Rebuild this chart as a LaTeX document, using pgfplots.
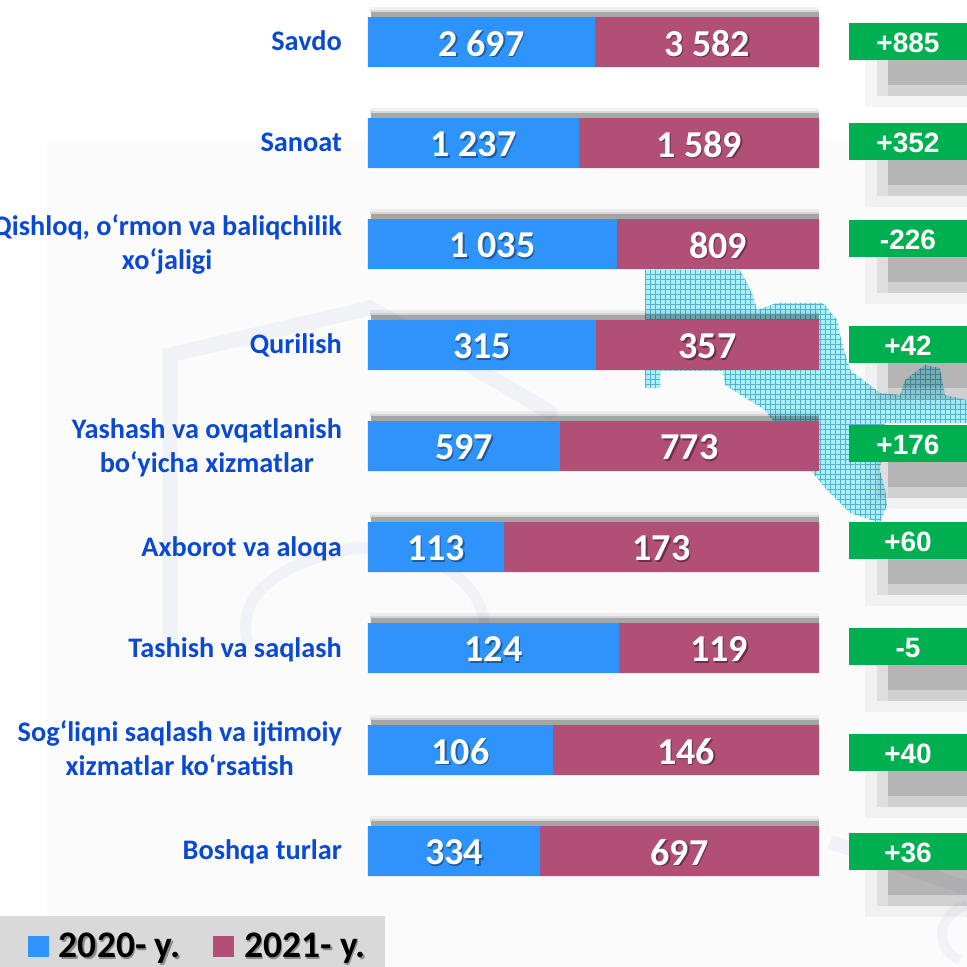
\documentclass[border=0pt]{standalone}
\usepackage{pgfplots}
\pgfplotsset{compat=1.18}
\usepackage{pgfplotstable}
\usepackage{fontspec}
\setmainfont{Carlito}
\newfontfamily\arialf{Liberation Sans}
\definecolor{cblue}{HTML}{2E93FB}
\definecolor{cred}{HTML}{B14F77}
\definecolor{cgreen}{HTML}{00B050}
\definecolor{ctext}{HTML}{0A49D3}
\definecolor{sblue}{HTML}{1F5E9F}
\definecolor{sred}{HTML}{6E3049}
\definecolor{swoosh}{HTML}{F1F2F7}
\definecolor{mapbg}{HTML}{A3F4F8}
\definecolor{mapln}{HTML}{62ACCE}
\newcommand\sh[2]{\makebox[0pt][l]{\raisebox{-1.5pt}{\hspace{1.5pt}\textcolor{#1}{#2}}}#2}
\pgfplotstableread[col sep=comma]{
y,blue,red,lb,lr
42,50.33,49.67,2 697,3 582
143,46.78,53.22,1 237,1 589
244,55.21,44.79,1 035,809
345,50.55,49.45,315,357
446,42.57,57.43,597,773
547,30.16,69.84,113,173
648,55.65,44.35,124,119
750,41.02,58.98,106,146
851,38.14,61.86,334,697
}\bars
\pgfplotstableread[col sep=comma]{
y,x,d
41.5,59,+885
141.5,59,+352
238.5,59,-226
344.5,59,+42
443.5,59,+176
540.5,59,+60
646.5,59,-5
752.5,59,+40
851,59,+36
}\diffs
\begin{document}
\begin{tikzpicture}
\clip (0pt,0pt) rectangle (967pt,967pt);
\begin{scope}[x=1pt,y=-1pt,yshift=967pt]
 \fill[white] (0,0) rectangle (967,967);
 \fill[black!1.5] (47,140) rectangle (967,967);
 % faint swooshes
 \draw[swoosh,line width=15pt,line cap=round] (170,640) -- (170,355) -- (370,308) -- (550,412);
 \draw[swoosh,line width=11pt,line cap=round] (247,640) .. controls (235,590) and (290,560) .. (355,548) .. controls (430,545) and (480,580) .. (485,625);
 \draw[swoosh,line width=14pt] (830,842) -- (967,888);
 \draw[swoosh,line width=10pt] (967,905) .. controls (935,915) and (935,950) .. (960,960);
 % map
 \begin{scope}
  \clip (645,270) -- (740,270) -- (752,293) -- (757,310) -- (777,303) -- (823,303) -- (837,320) -- (842,343) -- (850,370) -- (880,393) -- (900,395) -- (905,380) -- (925,365) -- (940,368) -- (945,395) -- (967,400) -- (967,423) -- (885,423) -- (880,470) -- (885,490) -- (887,505) -- (880,523) -- (850,513) -- (827,490) -- (812,472) -- (765,410) -- (725,385) -- (723,371) -- (660,371) -- (660,388) -- (645,388) -- cycle;
  \fill[mapbg] (640,265) rectangle (967,530);
  \foreach \v in {640,645,...,965} \draw[mapln,line width=1pt] (\v,265) -- (\v,530);
  \foreach \v in {265,270,...,530} \draw[mapln,line width=1pt] (640,\v) -- (967,\v);
 \end{scope}
 % shadows
 \foreach \b in {60,160,257,363,462,559,665,771,870} {
  \fill[black,opacity=.04] (865,\b) rectangle (967,\b+47);
  \fill[black,opacity=.08] (877,\b) rectangle (967,\b+36);
  \fill[black,opacity=.06] (888,\b) rectangle (967,\b+36);
  \fill[black,opacity=.13] (888,\b) rectangle (967,\b+25);
 }
 % strips above the bars
 \foreach \t in {17,118,219,320,421,522,623,725,826} {
  \fill[black,opacity=.06] (370,\t-10) rectangle (819,\t-7);
  \fill[black,opacity=.15] (370,\t-7) rectangle (819,\t-5);
  \fill[black,opacity=.34] (371,\t-5) rectangle (819,\t);
 }
 \fill[black!15] (0,916) rectangle (385,967);
\end{scope}
\begin{axis}[
  at={(368pt,0pt)}, anchor=south west, scale only axis, width=451pt, height=967pt,
  xbar stacked, bar width=50pt, xmin=0, xmax=100, ymin=0, ymax=967, y dir=reverse,
  clip=false, axis line style={draw=none}, major tick length=0pt,
  xtick=\empty,
  ytick={41,142,244,345,448,549,650,748,852},
  yticklabels={Savdo,Sanoat,{Qishloq, o‘rmon va baliqchilik\\xo‘jaligi},Qurilish,{Yashash va ovqatlanish\\bo‘yicha xizmatlar},Axborot va aloqa,Tashish va saqlash,{Sog‘liqni saqlash va ijtimoiy\\xizmatlar ko‘rsatish},Boshqa turlar},
  y tick label style={align=center,inner sep=0pt,xshift=-26pt,yshift=0pt,text=ctext,font=\fontsize{28.3}{34}\selectfont\bfseries},
  nodes near coords style={font=\fontsize{38}{38}\selectfont\bfseries,text=white,anchor=center,yshift=-2pt},
  legend style={at={(-0.7539,0.0217)},anchor=west,draw=none,fill=none,inner sep=0pt,outer sep=0pt,
     font=\fontsize{37.5}{38}\selectfont\bfseries,legend columns=2,
     /tikz/every even column/.append style={column sep=31pt}},
  legend image code/.code={\fill[#1,draw=none] (0pt,-10.5pt) rectangle (21pt,10.5pt);},
  legend cell align=left,
]
\addplot[fill=cblue,draw=none,point meta=explicit symbolic,
   nodes near coords={\sh{sblue}{\pgfplotspointmeta}}]
   table[x=blue,y=y,meta=lb]{\bars};
\addlegendentry{\hspace{8pt}\sh{black!45}{2020- y.}}
\addplot[fill=cred,draw=none,point meta=explicit symbolic,
   nodes near coords={\sh{sred}{\pgfplotspointmeta}}]
   table[x=red,y=y,meta=lr]{\bars};
\addlegendentry{\hspace{8pt}\sh{black!45}{2021- y.}}
\end{axis}
\begin{axis}[
  at={(849pt,0pt)}, anchor=south west, scale only axis, width=118pt, height=967pt,
  xmin=0, xmax=118, ymin=0, ymax=967, y dir=reverse, clip=false, hide axis,
  nodes near coords style={anchor=center,fill=cgreen,text=white,minimum width=118pt,minimum height=37pt,inner sep=0pt,
     font=\arialf\fontsize{28}{28}\selectfont\bfseries},
]
\addplot[draw=none,mark=none,point meta=explicit symbolic,
   nodes near coords={\raisebox{-11pt}[0pt][0pt]{\pgfplotspointmeta}}]
   table[col sep=comma,x=x,y=y,meta=d]{\diffs};
\end{axis}
\end{tikzpicture}
\end{document}
